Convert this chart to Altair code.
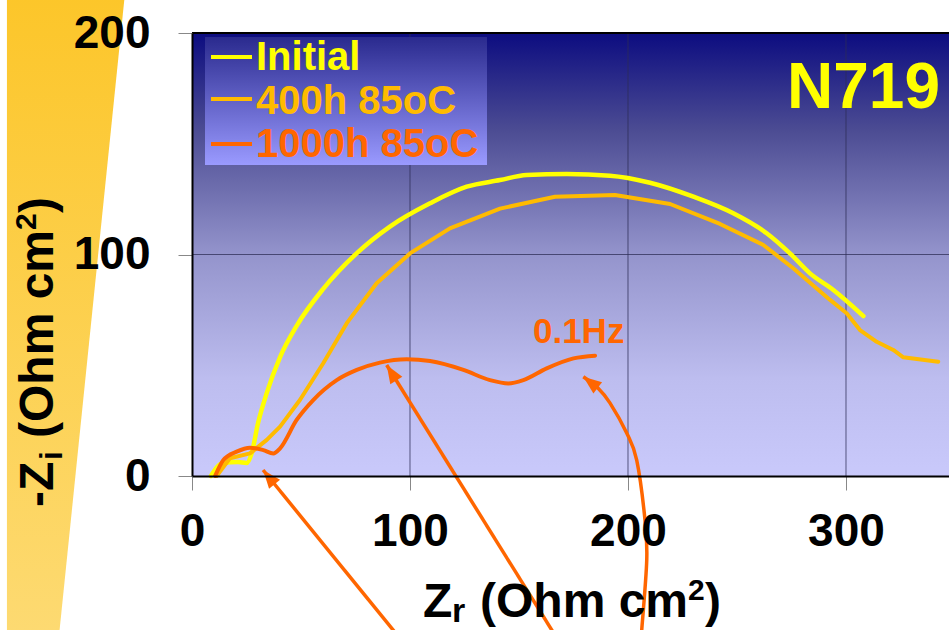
import math
import altair as alt
import pandas as pd

# ---------------- data ----------------
init_x = [8.7, 14.2, 21.1, 25.1, 27.4, 30.3, 34.3, 40.4, 48.0, 60.2, 75.5, 90.8, 109.2,
          126.0, 141.3, 153.5, 171.9, 191.7, 210.1, 230.0, 248.3, 263.6, 274.3, 283.5, 294.2, 308.0]
init_y = [0.0, 5.9, 6.3, 5.9, 10.4, 23.9, 37.5, 53.7, 67.8, 84.5, 100.5, 112.6, 123.1,
          130.6, 133.6, 135.9, 136.3, 135.6, 132.4, 126.1, 118.6, 109.6, 100.5, 91.5, 84.0, 72.2]

h400_x = [11.3, 17.4, 26.6, 34.3, 40.4, 49.5, 60.2, 71.0, 84.7, 100.0, 118.3, 141.3, 166.5, 194.0,
          219.3, 242.2, 262.1, 275.8, 292.7, 300.3, 306.4, 314.1, 321.7, 326.3, 342.3]
h400_y = [0.0, 8.0, 10.2, 16.3, 22.3, 34.3, 50.9, 69.0, 87.0, 100.5, 111.8, 120.7, 126.1, 126.9,
          122.8, 113.8, 104.3, 93.8, 79.5, 73.5, 65.9, 60.6, 56.9, 53.6, 51.6]

h1000_x = [10.6, 14.4, 20.5, 26.6, 32.7, 37.3, 40.4, 48.0, 55.6, 66.4, 75.6, 86.2, 98.5, 109.2,
           124.5, 136.7, 145.1, 152.0, 162.7, 175.0, 184.9]
h1000_y = [0.0, 7.2, 11.0, 12.8, 11.7, 10.2, 12.5, 25.3, 34.3, 43.3, 47.9, 51.2, 52.7, 51.9,
           47.9, 43.3, 41.8, 43.3, 48.6, 53.1, 54.3]

series_names = ["Initial", "400h 85oC", "1000h 85oC"]
series_colors = ["#ffff00", "#ffbb00", "#ff6600"]

x_ticks = [0, 100, 200, 300]
y_ticks = [0, 100, 200]
x_grid = [100, 200, 300]
y_grid = [100]
x_max = 347.25
y_max = 200

# annotation arrows (data units; tails run off the bottom of the figure)
arrow1_x = [94.3, 32.6]
arrow1_y = [-72.0, 2.7]
arrow2_x = [166.6, 89.3]
arrow2_y = [-72.0, 50.1]
arrow3_x = [206.0, 206.3, 208.6, 207.8, 204.0, 199.4, 191.7, 186.2, 179.5]
arrow3_y = [-72.0, -69.5, -37.9, -19.9, 7.2, 19.4, 33.0, 39.7, 44.8]

hz_label = "0.1Hz"
hz_x, hz_y = 156.4, 60.0

# ---------------- layout ----------------
W, H = 757, 443
FONT = "Liberation Sans"
ORANGE = "#ff6600"

xs = alt.Scale(domain=[0, x_max], nice=False, zero=False)
ys = alt.Scale(domain=[0, y_max], nice=False, zero=False)

x_axis = alt.Axis(values=x_ticks, title=None, grid=False, labelFont=FONT, labelFontWeight="bold",
                  labelFontSize=46, labelColor="black", tickSize=14, tickColor="#888888",
                  tickWidth=1, domainColor="black", domainWidth=2, labelPadding=19,
                  labelFlush=False, labelOverlap=False, zindex=1, format="d")
y_axis = alt.Axis(values=y_ticks, title=None, grid=False, labelFont=FONT, labelFontWeight="bold",
                  labelFontSize=46, labelColor="black", tickSize=14, tickColor="#888888",
                  tickWidth=1, domainColor="black", domainWidth=2, labelPadding=28,
                  labelFlush=False, labelOverlap=False, zindex=1, format="d")


def X(f):
    return alt.X(f, type="quantitative", scale=xs, axis=x_axis)


def Y(f):
    return alt.Y(f, type="quantitative", scale=ys, axis=y_axis)


# left decorative band
band_df = pd.DataFrame({"y": [215.5, -72.0], "x": [-84.9, -84.9], "x2": [-31.0, -61.0]})
band = alt.Chart(band_df).mark_area(
    orient="horizontal", clip=False,
    fill=alt.Gradient(gradient="linear", x1=0, y1=0, x2=0, y2=1,
                      stops=[alt.GradientStop(offset=0, color="#fcc62a"),
                             alt.GradientStop(offset=1, color="#fdda72")])
).encode(y=Y("y:Q"), x=X("x:Q"), x2="x2:Q")

# plot background gradient
bg_df = pd.DataFrame({"x": [0], "x2": [x_max], "y": [0], "y2": [y_max]})
bg = alt.Chart(bg_df).mark_rect(
    fill=alt.Gradient(gradient="linear", x1=0, y1=1, x2=0, y2=0,
                      stops=[alt.GradientStop(offset=0, color="#c9c9fb"),
                             alt.GradientStop(offset=0.22, color="#bdbdef"),
                             alt.GradientStop(offset=0.5, color="#9494cc"),
                             alt.GradientStop(offset=0.78, color="#4c4c93"),
                             alt.GradientStop(offset=1, color="#0c0c80")])
).encode(x=X("x:Q"), x2="x2:Q", y=Y("y:Q"), y2="y2:Q")

gv = alt.Chart(pd.DataFrame({"x": x_grid})).mark_rule(color="#2e2e55", strokeWidth=1, opacity=0.75).encode(
    x=X("x:Q"), y=alt.value(0), y2=alt.value(H))
gh = alt.Chart(pd.DataFrame({"y": y_grid})).mark_rule(color="#2e2e55", strokeWidth=1, opacity=0.75).encode(
    y=Y("y:Q"), x=alt.value(0), x2=alt.value(W))
top_frame = alt.Chart(pd.DataFrame({"y": [y_max]})).mark_rule(color="black", strokeWidth=2).encode(
    y=Y("y:Q"), x=alt.value(0), x2=alt.value(W))

# legend box
leg_box = alt.Chart(pd.DataFrame({"a": [0]})).mark_rect(
    fill=alt.Gradient(gradient="linear", x1=0, y1=0, x2=0, y2=1,
                      stops=[alt.GradientStop(offset=0, color="#2a2a8e"),
                             alt.GradientStop(offset=1, color="#9a9aff")])
).encode(x=alt.value(13), x2=alt.value(295), y=alt.value(4), y2=alt.value(132))


def line_layer(xv, yv, color, width, interp):
    df = pd.DataFrame({"x": xv, "y": yv, "i": range(len(xv))})
    return alt.Chart(df).mark_line(color=color, strokeWidth=width, interpolate=interp,
                                   strokeCap="round", strokeJoin="round").encode(
        x=X("x:Q"), y=Y("y:Q"), order="i:Q")


l_init = line_layer(init_x, init_y, series_colors[0], 4.5, "monotone")
l_400 = line_layer(h400_x, h400_y, series_colors[1], 4, "linear")
l_1000 = line_layer(h1000_x, h1000_y, series_colors[2], 4, "monotone")

leg_layers = []
leg_line_y = [24, 66, 111]
leg_text_y = [37, 81, 124]
for name, col, ly, ty in zip(series_names, series_colors, leg_line_y, leg_text_y):
    d = pd.DataFrame({"t": [name]})
    leg_layers.append(alt.Chart(d).mark_rule(color=col, strokeWidth=4).encode(
        x=alt.value(19), x2=alt.value(60), y=alt.value(ly)))
    leg_layers.append(alt.Chart(d).mark_text(font=FONT, fontWeight="bold", fontSize=40, color=col,
                                             align="left", baseline="alphabetic").encode(
        text="t:N", x=alt.value(64), y=alt.value(ty)))

n719 = alt.Chart(pd.DataFrame({"t": ["N719"]})).mark_text(
    font=FONT, fontWeight="bold", fontSize=64, color="#ffff00", align="right", baseline="alphabetic"
).encode(text="t:N", x=alt.value(748), y=alt.value(75))

hz = alt.Chart(pd.DataFrame({"t": [hz_label], "x": [hz_x], "y": [hz_y]})).mark_text(
    font=FONT, fontWeight="bold", fontSize=35, color=ORANGE, align="left", baseline="alphabetic"
).encode(text="t:N", x=X("x:Q"), y=Y("y:Q"))

# arrows
arrow_layers = []
heads = []
kx, ky = W / x_max, H / y_max
for ax_, ay_, interp in [(arrow1_x, arrow1_y, "linear"), (arrow2_x, arrow2_y, "linear"),
                         (arrow3_x, arrow3_y, "cardinal")]:
    df = pd.DataFrame({"x": ax_, "y": ay_, "i": range(len(ax_))})
    arrow_layers.append(alt.Chart(df).mark_line(color=ORANGE, strokeWidth=3.5, clip=False,
                                                interpolate=interp).encode(
        x=X("x:Q"), y=Y("y:Q"), order="i:Q"))
    dx = (ax_[-1] - ax_[-2]) * kx
    dy = (ay_[-1] - ay_[-2]) * ky
    ang = math.degrees(math.atan2(dx, dy)) % 360
    heads.append({"x": ax_[-1], "y": ay_[-1], "ang": ang})

head_layer = alt.Chart(pd.DataFrame(heads)).mark_point(
    shape="M0,0L-0.62,1.6L0.62,1.6Z", filled=True, size=520, color=ORANGE, opacity=1, clip=False,
    strokeWidth=0
).encode(x=X("x:Q"), y=Y("y:Q"), angle=alt.Angle("ang:Q", scale=None))

# axis titles with sub/superscripts
def txt(s, x, y, size, angle=0, align="left"):
    return alt.Chart(pd.DataFrame({"t": [s]})).mark_text(
        font=FONT, fontWeight="bold", fontSize=size, color="black", align=align,
        baseline="alphabetic", angle=angle
    ).encode(text="t:N", x=alt.value(x), y=alt.value(y))


xt = [txt("Z", 231, 584, 48), txt("r", 260, 589, 34), txt("(Ohm cm", 288, 584, 48),
      txt("2", 496, 567, 30), txt(")", 513, 584, 48)]
yt = [txt("-Z", -139, 474, 48, 270), txt("i", -130, 427, 32, 270),
      txt("(Ohm cm", -139, 405, 48, 270), txt("2", -156, 197, 30, 270),
      txt(")", -139, 180, 48, 270)]

chart = alt.layer(
    band, bg, gv, gh, top_frame, leg_box, l_init, l_400, l_1000, *leg_layers, n719, hz,
    *arrow_layers, head_layer, *xt, *yt
).properties(
    width=W, height=H,
    padding={"left": 192, "top": 33, "right": 0, "bottom": 154},
    autosize=alt.AutoSizeParams(type="none"),
    background="white",
).configure_view(stroke=None)

chart.save("out.html", embed_options={"renderer": "svg", "actions": False})
